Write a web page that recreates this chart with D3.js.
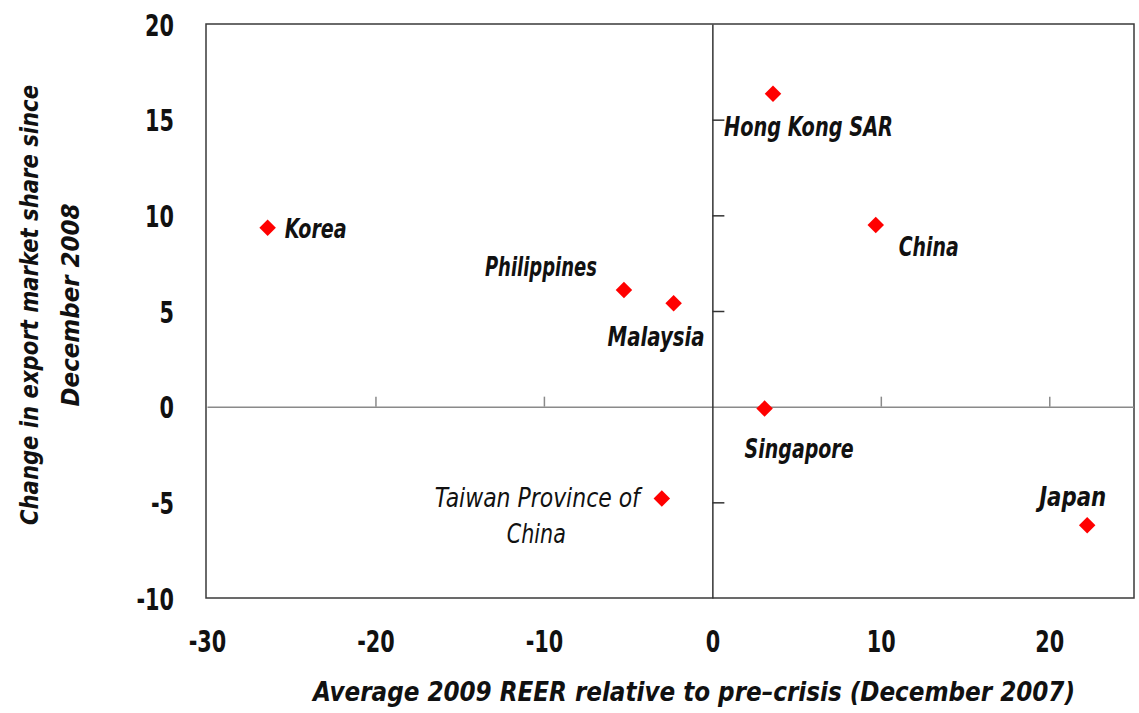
<!DOCTYPE html>
<html>
<head>
<meta charset="utf-8">
<script src="https://cdn.jsdelivr.net/npm/d3@7"></script>
<style>
  html, body { margin: 0; padding: 0; background: #fff; }
  svg text { font-family: "Liberation Sans Narrow", "DejaVu Sans Condensed", "Roboto Condensed", sans-serif; }
</style>
</head>
<body>
<svg id="chart" width="1139" height="713"></svg>
<script>
// ---- data ----
const countries = ["Korea", "Hong Kong SAR", "China", "Philippines", "Malaysia", "Singapore", "Taiwan Province of China", "Japan"];
const reer = [-26.4, 3.6, 9.7, -5.25, -2.3, 3.1, -3.0, 22.25];
const marketShare = [9.35, 16.35, 9.5, 6.1, 5.4, -0.1, -4.8, -6.2];
const xTicks = [-30, -20, -10, 0, 10, 20];
const yTicks = [-10, -5, 0, 5, 10, 15, 20];
const xTitle = "Average 2009 REER relative to pre\u2013crisis (December 2007)";
const yTitleLines = ["Change in export market share since", "December 2008"];

// ---- label layout (styling, not data): offsets from marker, rendered width ----
const labelLayout = {
  "Korea": [{t: "Korea", dx: 17, dy: 10, w: 62}],
  "Hong Kong SAR": [{t: "Hong Kong SAR", dx: -49, dy: 42, w: 169}],
  "China": [{t: "China", dx: 23, dy: 31, w: 60}],
  "Philippines": [{t: "Philippines", dx: -139, dy: -14, w: 112}],
  "Malaysia": [{t: "Malaysia", dx: -66, dy: 43, w: 97}],
  "Singapore": [{t: "Singapore", dx: -20, dy: 49, w: 109}],
  "Taiwan Province of China": [{t: "Taiwan Province of", dx: -227, dy: 8, w: 205, weight: "normal"}, {t: "China", dx: -155, dy: 44, w: 59, weight: "normal"}],
  "Japan": [{t: "Japan", dx: -48, dy: -19, w: 67}]
};

const svg = d3.select("#chart");
const pLeft = 207, pRight = 1133.5, pTop = 24, pBottom = 598;
const x = d3.scaleLinear().domain([-30, 25]).range([pLeft, pRight]);
const y = d3.scaleLinear().domain([-10, 20]).range([pBottom, pTop]);
const fmt = d => String(d);

function condense(sel, factor) {
  sel.each(function() {
    const n = this.getComputedTextLength();
    d3.select(this).attr("textLength", n * factor).attr("lengthAdjust", "spacingAndGlyphs");
  });
}

// frame
svg.append("rect").attr("x", 206).attr("y", pTop).attr("width", 1134 - 206).attr("height", pBottom - pTop)
  .attr("fill", "none").attr("stroke", "#3a3a3a").attr("stroke-width", 1.5);

// zero lines with ticks
const xZero = svg.append("g").attr("transform", `translate(0,${y(0)})`)
  .call(d3.axisTop(x).tickValues(xTicks.filter(d => d !== 0 && d !== -30)).tickSize(10).tickFormat("").tickSizeOuter(0));
xZero.select(".domain").attr("stroke", "#8a8a8a").attr("stroke-width", 1.5);
xZero.selectAll(".tick line").attr("stroke", "#8a8a8a").attr("stroke-width", 1.5);

const yZero = svg.append("g").attr("transform", `translate(${x(0)},0)`)
  .call(d3.axisRight(y).tickValues(yTicks.filter(d => d !== 0 && d !== -10 && d !== 20)).tickSize(12).tickFormat("").tickSizeOuter(0));
yZero.select(".domain").attr("stroke", "#333").attr("stroke-width", 1.5);
yZero.selectAll(".tick line").attr("stroke", "#333").attr("stroke-width", 1.5);

// tick labels
const yAx = svg.append("g").attr("transform", `translate(${pLeft},0)`)
  .call(d3.axisLeft(y).tickValues(yTicks).tickSize(0).tickPadding(33).tickFormat(fmt));
yAx.select(".domain").remove();
yAx.attr("font-family", null).attr("font-size", null);
yAx.selectAll("text").attr("font-size", 30).attr("font-weight", "bold").attr("fill", "#111").attr("dy", "0.37em");
condense(yAx.selectAll("text"), 0.77);

const xAx = svg.append("g").attr("transform", `translate(0,${pBottom})`)
  .call(d3.axisBottom(x).tickValues(xTicks).tickSize(0).tickFormat(fmt));
xAx.select(".domain").remove();
xAx.attr("font-family", null).attr("font-size", null);
xAx.selectAll("text").attr("font-size", 30).attr("font-weight", "bold").attr("fill", "#111").attr("y", 54).attr("dy", null);
condense(xAx.selectAll("text"), 0.77);

// titles
svg.append("text").attr("x", 313).attr("y", 701)
  .attr("font-size", 27).attr("font-weight", "bold").attr("font-style", "italic").attr("fill", "#111")
  .attr("textLength", 762).attr("lengthAdjust", "spacingAndGlyphs")
  .text(xTitle);

const ytLens = [440, 203];
yTitleLines.forEach((l, i) => {
  svg.append("text").attr("transform", `translate(${i === 0 ? 38 : 79},305) rotate(-90)`)
    .attr("x", -ytLens[i] / 2)
    .attr("font-size", 25).attr("font-weight", "bold").attr("font-style", "italic").attr("fill", "#111")
    .attr("textLength", ytLens[i]).attr("lengthAdjust", "spacingAndGlyphs")
    .text(l);
});

// points
const pts = countries.map((c, i) => ({c, x: reer[i], y: marketShare[i]}));
svg.append("g").selectAll("path").data(pts).join("path")
  .attr("d", d3.symbol().type(d3.symbolSquare).size(136))
  .attr("transform", d => `translate(${x(d.x)},${y(d.y)}) rotate(45)`)
  .attr("fill", "#ff0000");

// labels
const lg = svg.append("g");
pts.forEach(d => {
  labelLayout[d.c].forEach(l => {
    lg.append("text").attr("x", x(d.x) + l.dx).attr("y", y(d.y) + l.dy)
      .attr("font-size", 26).attr("font-style", "italic")
      .attr("font-weight", l.weight || "bold").attr("fill", "#111")
      .attr("textLength", l.w).attr("lengthAdjust", "spacingAndGlyphs")
      .text(l.t);
  });
});
</script>
</body>
</html>
